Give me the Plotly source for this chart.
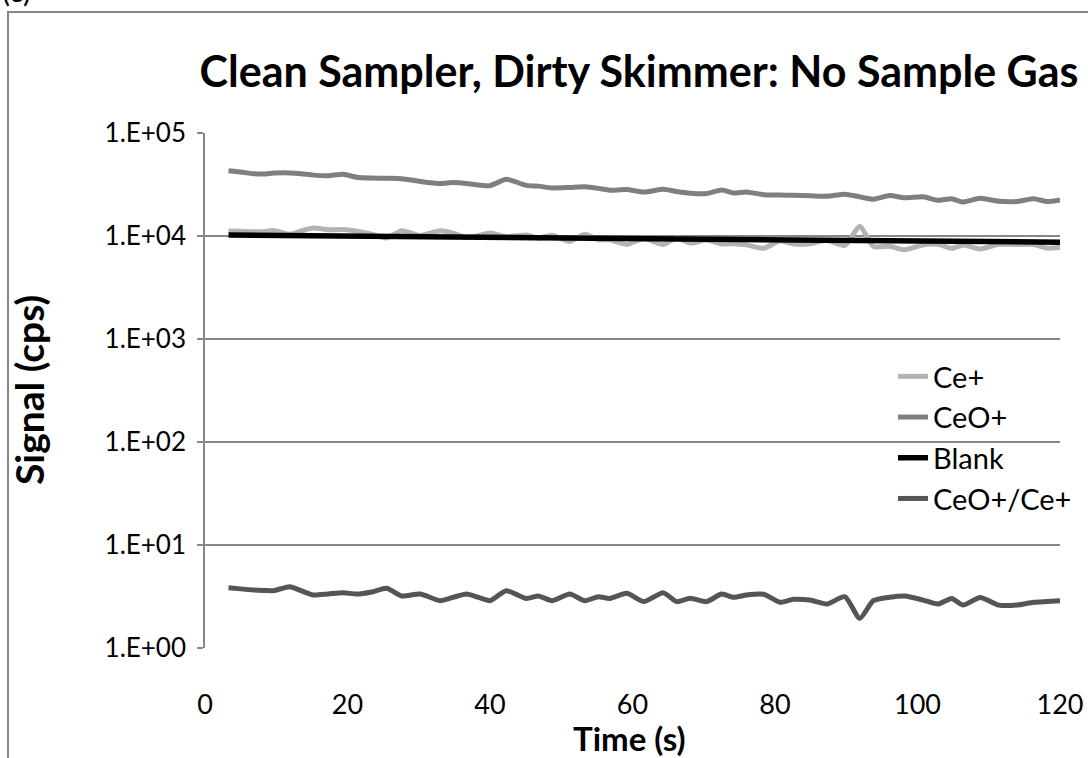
import plotly.graph_objects as go

# ---- data ----
time_s = [3.3, 5.0, 6.8, 8.5, 9.6, 11.9, 13.5, 15.2, 17.3, 19.4, 21.3, 23.4, 25.5, 27.6,
          30.2, 33.0, 34.8, 36.7, 38.4, 40.0, 42.3, 45.1, 46.8, 48.7, 51.2, 53.3, 55.2,
          56.8, 59.2, 61.6, 64.3, 66.2, 68.1, 70.4, 72.5, 74.2, 76.0, 78.4, 80.7, 82.6,
          84.9, 87.3, 89.8, 91.9, 93.8, 96.1, 98.2, 100.8, 102.9, 104.8, 106.4, 108.8,
          111.4, 113.9, 116.3, 118.2, 120.0]

ce_plus = [11170, 11150, 11010, 11050, 11330, 10400, 11190, 11930, 11490, 11540, 11140,
           10430, 9550, 11250, 10120, 11220, 10650, 9670, 10100, 10690, 9860, 10230, 9530,
           10170, 8860, 10420, 9210, 9170, 8290, 9470, 8260, 9570, 8550, 9150, 8380, 8420,
           8200, 7590, 8990, 8350, 8420, 9100, 8100, 12370, 7920, 7940, 7340, 8220, 8310,
           7590, 8200, 7480, 8310, 8280, 8270, 7630, 7780]

ceo_plus = [43000, 41800, 40300, 40000, 40800, 41000, 40300, 39000, 38500, 39700, 37200,
            36500, 36300, 36000, 33900, 32300, 33000, 32300, 31300, 30800, 35500, 31000,
            30500, 29300, 29600, 30000, 29000, 27800, 28200, 26700, 28400, 27000, 26000,
            25800, 28000, 26200, 26800, 25200, 25000, 24800, 24600, 24300, 25500, 24000,
            22800, 24700, 23500, 24000, 22200, 23000, 21400, 23200, 21700, 21600, 23000,
            21600, 22400]

ratio = [3.85, 3.75, 3.66, 3.62, 3.60, 3.94, 3.60, 3.27, 3.35, 3.44, 3.34, 3.50, 3.80,
         3.20, 3.35, 2.88, 3.10, 3.34, 3.10, 2.88, 3.60, 3.03, 3.20, 2.88, 3.34, 2.88,
         3.15, 3.03, 3.40, 2.82, 3.44, 2.82, 3.04, 2.82, 3.34, 3.11, 3.27, 3.32, 2.78,
         2.97, 2.92, 2.67, 3.15, 1.94, 2.88, 3.11, 3.20, 2.92, 2.67, 3.03, 2.61, 3.10,
         2.61, 2.61, 2.78, 2.83, 2.88]

blank_time = [3.3, 61.6, 120.0]
blank = [10200, 9400, 8700]

y_tickvals = [1, 10, 100, 1000, 10000, 100000]
y_ticktext = ["1.E+00", "1.E+01", "1.E+02", "1.E+03", "1.E+04", "1.E+05"]
x_tickvals = [0, 20, 40, 60, 80, 100, 120]

FONT = "Lato, 'Open Sans', sans-serif"
GRID = "#878787"
W_PLOT = 1060 - 205
H_PLOT = 648 - 133

fig = go.Figure()
fig.add_trace(go.Scatter(x=time_s, y=ce_plus, name="Ce+", mode="lines",
                         line=dict(color="#b3b3b3", width=5, shape="spline", smoothing=0.6)))
fig.add_trace(go.Scatter(x=time_s, y=ceo_plus, name="CeO+", mode="lines",
                         line=dict(color="#7f7f7f", width=5, shape="spline", smoothing=0.6)))
fig.add_trace(go.Scatter(x=blank_time, y=blank, name="Blank", mode="lines",
                         line=dict(color="#000000", width=5.5)))
fig.add_trace(go.Scatter(x=time_s, y=ratio, name="CeO+/Ce+", mode="lines",
                         line=dict(color="#555555", width=5, shape="spline", smoothing=0.6)))

fig.update_layout(
    width=1088, height=758,
    margin=dict(l=205, r=28, t=133, b=110, autoexpand=False),
    paper_bgcolor="white", plot_bgcolor="white",
    font=dict(family=FONT, color="black", size=28),
    showlegend=True,
    legend=dict(x=(893 - 205) / W_PLOT, y=1 - (351 - 133) / H_PLOT,
                xanchor="left", yanchor="top",
                bgcolor="rgba(0,0,0,0)", font=dict(size=29, family=FONT),
                tracegroupgap=0),
    title=dict(text="<b>Clean Sampler, Dirty Skimmer: No Sample Gas</b>",
               x=639 / 1088, xanchor="center", y=1 - 72 / 758, yanchor="middle",
               font=dict(size=43, family=FONT, color="black")),
)

fig.update_xaxes(range=[0, 120], tickvals=x_tickvals, showgrid=False, zeroline=False,
                 showline=False, ticks="", ticklabelstandoff=38,
                 tickfont=dict(size=27, family=FONT))
fig.update_yaxes(type="log", range=[0, 5], tickvals=y_tickvals, ticktext=y_ticktext,
                 showgrid=True, gridcolor=GRID, gridwidth=1.5, zeroline=False,
                 showline=True, linecolor=GRID, linewidth=1.5,
                 ticks="outside", ticklen=6, tickcolor=GRID, tickwidth=1.5,
                 ticklabelstandoff=6,
                 tickfont=dict(size=26, family=FONT))

# axis titles
fig.add_annotation(text="<b>Time (s)</b>", xref="paper", yref="paper",
                   x=(629 - 205) / W_PLOT, y=-(738 - 648) / H_PLOT,
                   xanchor="center", yanchor="middle", showarrow=False,
                   font=dict(size=33, family=FONT, color="black"))
fig.add_annotation(text="<b>Signal (cps)</b>", xref="paper", yref="paper",
                   x=-(205 - 29) / W_PLOT, y=1 - (390 - 133) / H_PLOT, textangle=-90,
                   xanchor="center", yanchor="middle", showarrow=False,
                   font=dict(size=39, family=FONT, color="black"))

# outer chart border (cut off on right and bottom) and panel label
fig.add_shape(type="rect", xref="paper", yref="paper",
              x0=-197 / W_PLOT, x1=1.2, y0=-0.5, y1=1 + (133 - 12) / H_PLOT,
              line=dict(color=GRID, width=2), layer="below")
fig.add_annotation(text="(c)", xref="paper", yref="paper",
                   x=-205 / W_PLOT, y=1 + (133 - 10) / H_PLOT, xanchor="left", yanchor="bottom",
                   showarrow=False, font=dict(size=30, family=FONT, color="black"))

fig.write_html("out.html")
